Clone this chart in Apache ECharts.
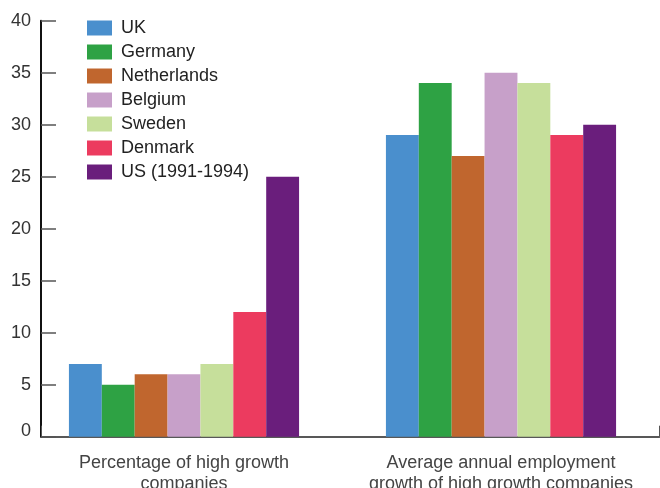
<!DOCTYPE html>
<html>
<head>
<meta charset="utf-8">
<script src="https://cdn.jsdelivr.net/npm/echarts@6/dist/echarts.min.js"></script>
<style>
  html, body { margin: 0; padding: 0; background: #fff; }
  #chart { width: 660px; height: 488px; }
</style>
</head>
<body>
<div id="chart"></div>
<script>
// Measures compared across countries
const categories = ['Percentage of high growth\ncompanies', 'Average annual employment\ngrowth of high growth companies'];

// One value per measure for each country
const countries = ['UK', 'Germany', 'Netherlands', 'Belgium', 'Sweden', 'Denmark', 'US (1991-1994)'];
const ukValues = [7, 29];
const germanyValues = [5, 34];
const netherlandsValues = [6, 27];
const belgiumValues = [6, 35];
const swedenValues = [7, 34];
const denmarkValues = [12, 29];
const usValues = [25, 30];

const yTicks = [0, 5, 10, 15, 20, 25, 30, 35, 40];

const seriesValues = [ukValues, germanyValues, netherlandsValues, belgiumValues, swedenValues, denmarkValues, usValues];
const colors = ['#4a8fcd', '#2ea244', '#c0662e', '#c7a0c9', '#c6df9b', '#ec3b5f', '#6a1e7c'];

const chart = echarts.init(document.getElementById('chart'), null, { renderer: 'canvas' });

const font = '"Liberation Sans", Arial, Helvetica, sans-serif';

chart.setOption({
  animation: false,
  color: colors,
  legend: {
    orient: 'vertical',
    left: 82,
    top: 14,
    itemWidth: 25,
    itemHeight: 15,
    itemGap: 6,
    icon: 'rect',
    textStyle: { fontFamily: font, fontSize: 18, color: '#222', lineHeight: 17, padding: [0, 0, 0, 4] },
    data: countries
  },
  grid: [
    { left: 25.5, right: 0.5, top: 20.7, bottom: 51.3, outerBoundsMode: 'none', containLabel: false },
    { left: 41, right: 0.5, top: 20.7, bottom: 51.3, outerBoundsMode: 'none', containLabel: false }
  ],
  xAxis: [
    {
      type: 'category',
      gridIndex: 0,
      data: categories,
      axisLine: { show: false },
      axisTick: { show: false },
      axisLabel: {
        interval: 0,
        margin: 16,
        fontFamily: font,
        fontSize: 18,
        lineHeight: 21,
        color: '#444'
      }
    },
    {
      type: 'value',
      gridIndex: 1,
      min: 0,
      max: 1,
      interval: 1,
      axisLine: { show: true, lineStyle: { color: '#222', width: 1.5 } },
      axisTick: { show: true, inside: true, length: 11, lineStyle: { color: '#555', width: 1 } },
      axisLabel: { show: false },
      splitLine: { show: false }
    }
  ],
  yAxis: [
    {
      type: 'value',
      gridIndex: 0,
      min: yTicks[0],
      max: yTicks[yTicks.length - 1],
      interval: 5,
      offset: -15.5,
      axisLine: { show: true, lineStyle: { color: '#111', width: 2 } },
      axisTick: { show: true, inside: true, length: 15, lineStyle: { color: '#555', width: 1.5 } },
      axisLabel: {
        margin: 10,
        fontFamily: font,
        fontSize: 18,
        color: '#333',
        // the zero label sits a little above the baseline
        formatter: (v) => (v === 0 ? '{zero|0}' : String(v)),
        rich: { zero: { fontFamily: font, fontSize: 18, color: '#333', padding: [0, 0, 11, 0] } }
      },
      splitLine: { show: false }
    },
    {
      type: 'value',
      gridIndex: 1,
      min: 0,
      max: 1,
      show: false
    }
  ],
  series: countries.map((name, i) => ({
    name: name,
    type: 'bar',
    xAxisIndex: 0,
    yAxisIndex: 0,
    barGap: '0%',
    barCategoryGap: '27.4%',
    data: seriesValues[i],
    itemStyle: { color: colors[i] }
  }))
});
</script>
</body>
</html>
